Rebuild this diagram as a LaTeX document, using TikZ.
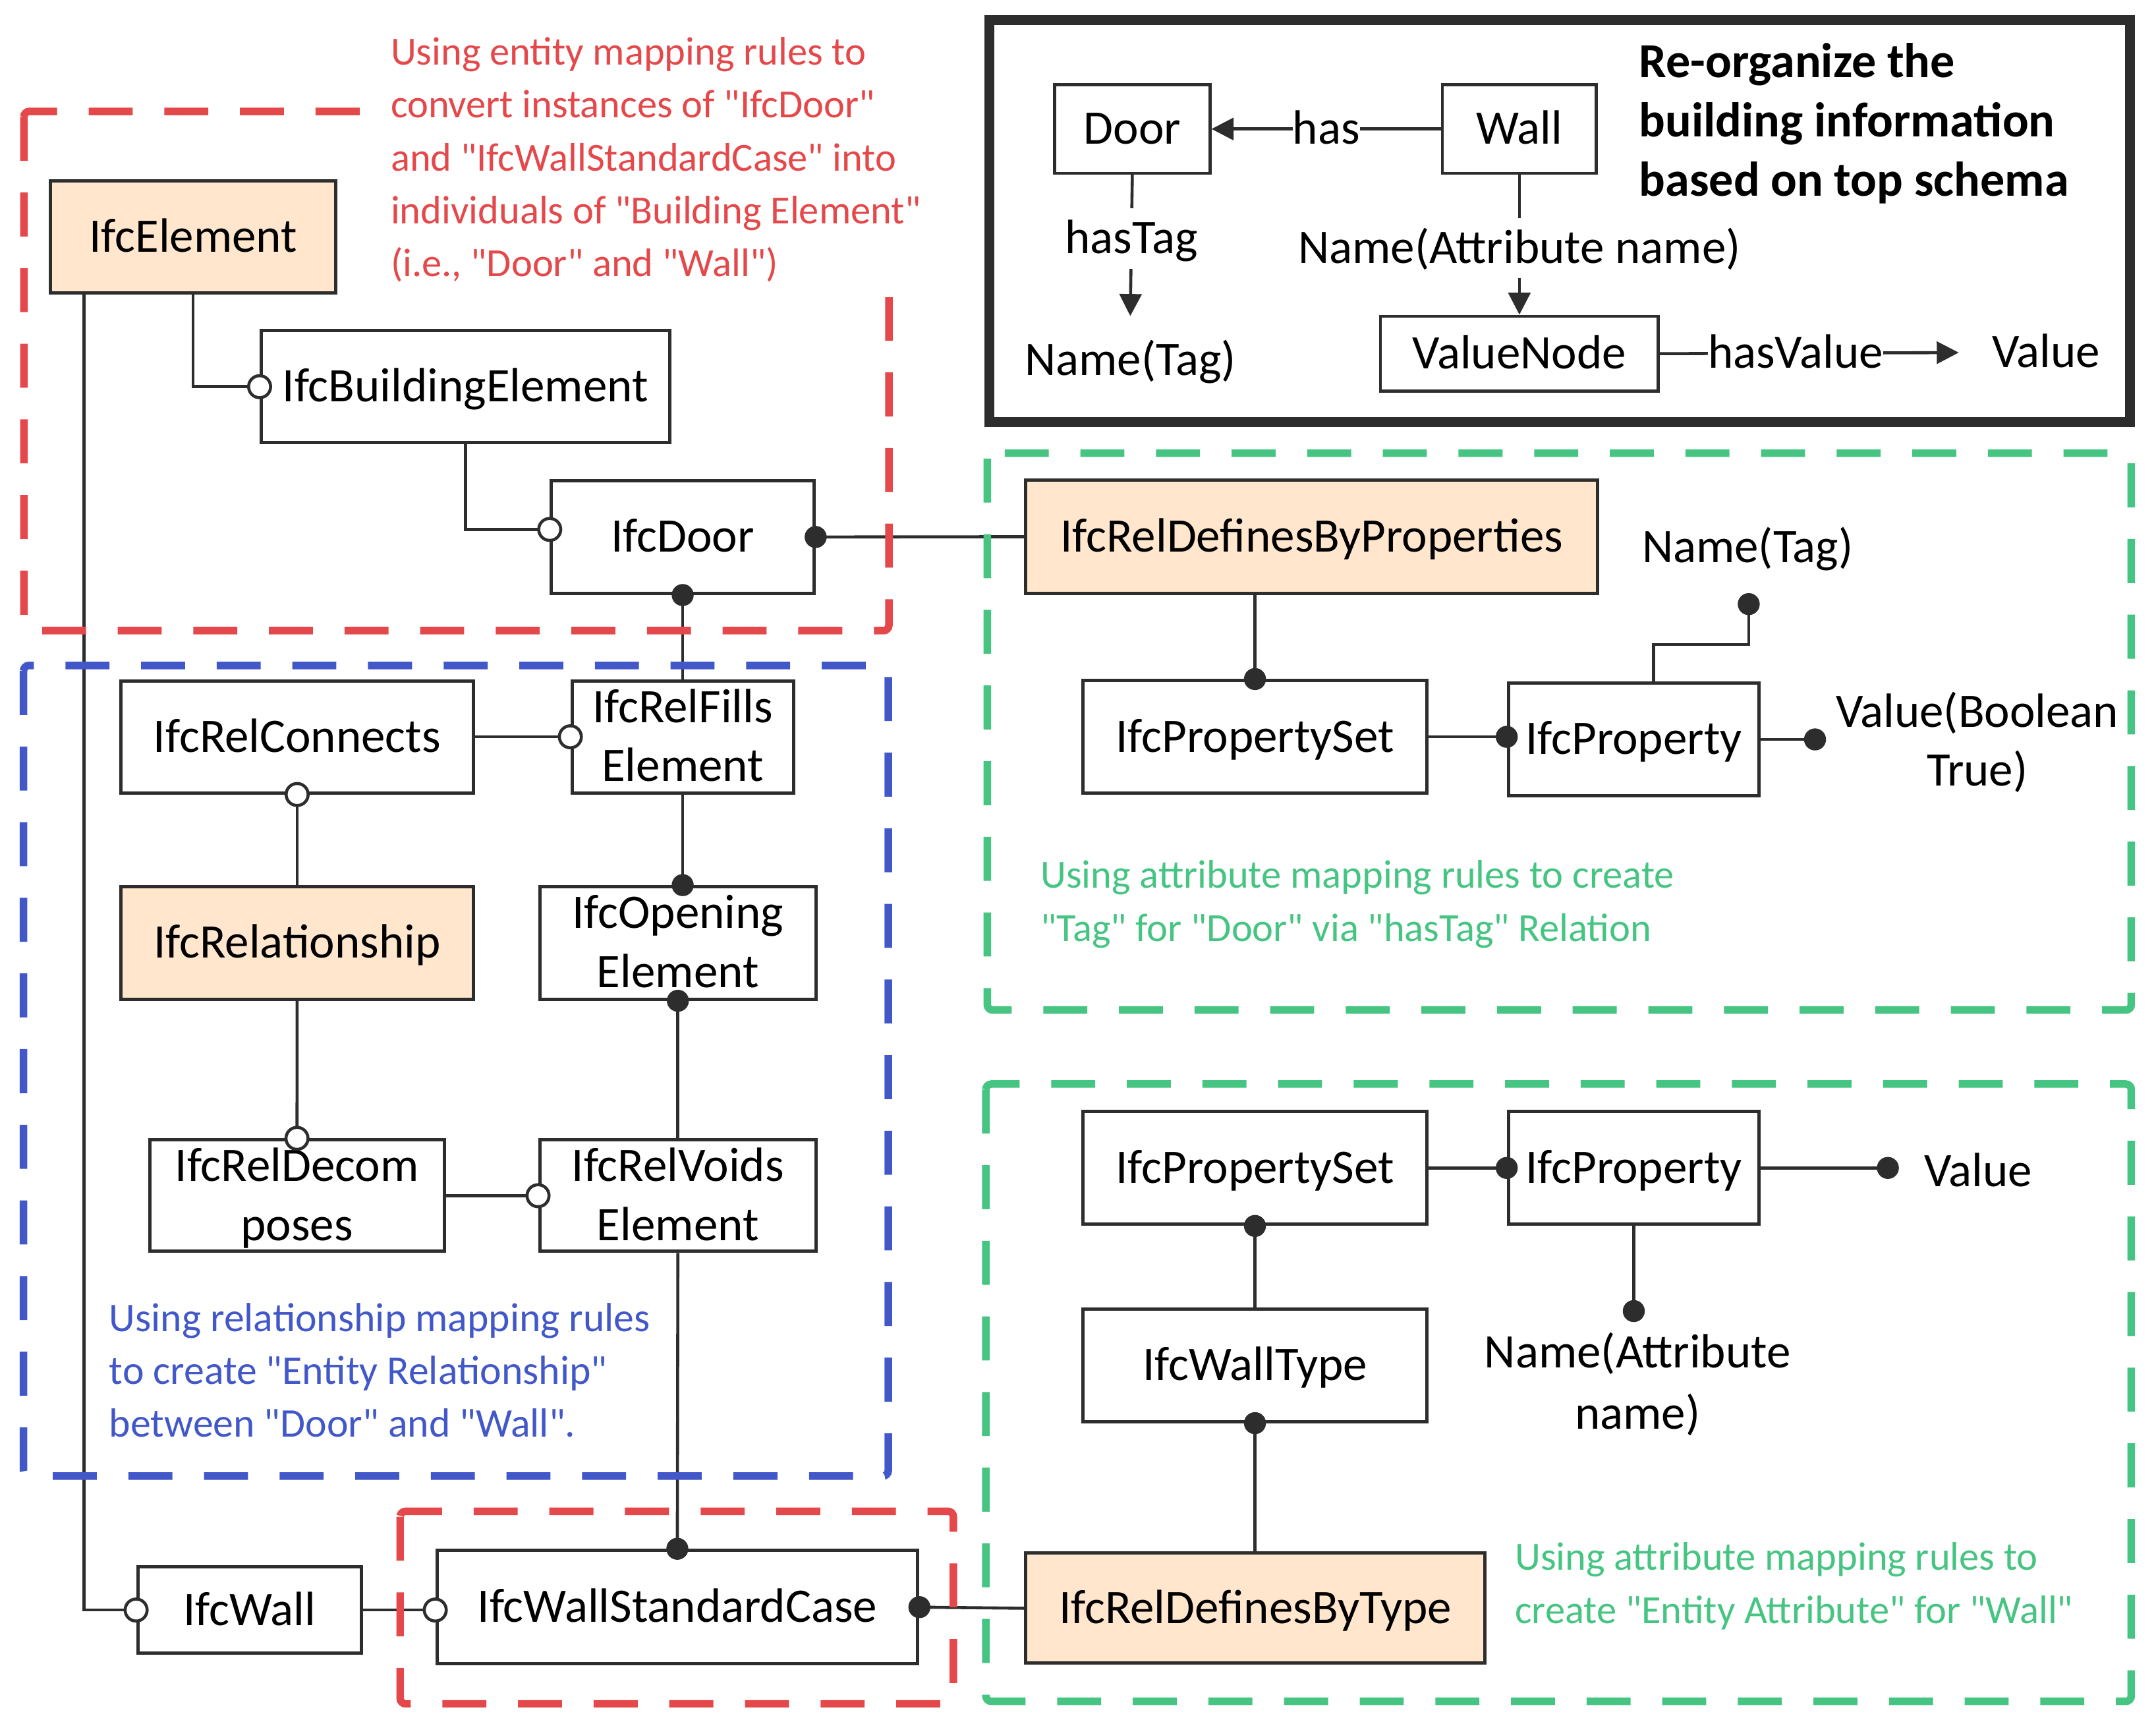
\documentclass[tikz,border=0pt]{standalone}
\usepackage{fontspec}
\setmainfont{Carlito}[Ligatures=TeXOff]
\usetikzlibrary{arrows.meta,calc}
\pgfdeclarelayer{bg}
\pgfsetlayers{bg,main}
\definecolor{myred}{HTML}{E5484A}
\definecolor{myblue}{HTML}{4258C8}
\definecolor{mygreen}{HTML}{46C482}
\definecolor{myorange}{HTML}{FFE6CC}
\definecolor{myline}{HTML}{2D2D2D}
\newcommand{\twol}[2]{\rule{0pt}{30pt}#1\\#2\rule[-8pt]{0pt}{8pt}}
\begin{document}
\begin{tikzpicture}[x=1pt,y=-1pt,
  box/.style={draw=myline, line width=2.4pt, fill=white, inner sep=0pt,
    font=\fontsize{35}{43}\selectfont, text height=27pt, text depth=5pt},
  obox/.style={box, fill=myorange},
  tbox/.style={box, line width=2.2pt},
  box2/.style={draw=myline, line width=2.4pt, fill=white, inner sep=0pt,
    font=\fontsize{35}{43}\selectfont, align=center},
  lbl/.style={inner sep=0pt, font=\fontsize{35}{43}\selectfont, text height=27pt, text depth=5pt},
  lbltwo/.style={inner sep=0pt, align=center, anchor=north},
  conn/.style={draw=myline, line width=2.2pt},
  arr/.style={conn, -{Triangle[length=16pt,width=16pt]}},
  odot/.style={circle, draw=myline, line width=2.2pt, fill=white, minimum size=16pt, inner sep=0pt},
  fdot/.style={circle, fill=myline, minimum size=16pt, inner sep=0pt},
  note/.style={inner sep=0pt, font=\fontsize{29}{38.5}\selectfont, align=left, anchor=north west},
  dbox/.style={line width=5.5pt, dash pattern=on 32pt off 23pt, rounded corners=4pt}
]
\useasboundingbox (0,0) rectangle (1568,1249);

% ---------- main boxes ----------
\node[obox, minimum width=207.7pt, minimum height=81.5pt] (elem) at (140.5,172.2) {IfcElement};
\node[box, minimum width=297pt, minimum height=81.5pt] (bldg) at (338.5,281.2) {IfcBuildingElement};
\node[box, minimum width=191pt, minimum height=82pt] (door) at (496.5,390.5) {IfcDoor};
\node[obox, minimum width=416pt, minimum height=82pt] (rdp) at (954,390.3) {IfcRelDefinesByProperties};
\node[box, minimum width=250.3pt, minimum height=81.6pt] (pset1) at (912.7,535.8) {IfcPropertySet};
\node[box, minimum width=182.4pt, minimum height=81.8pt] (prop1) at (1188.2,537.7) {IfcProperty};
\node[box, minimum width=256.8pt, minimum height=81.5pt] (relconn) at (216.1,535.8) {IfcRelConnects};
\node[box2, minimum width=161pt, minimum height=81.5pt] (relfills) at (496.5,535.8) {\twol{IfcRelFills}{Element}};
\node[obox, minimum width=256.8pt, minimum height=81.7pt] (relship) at (216.1,685.7) {IfcRelationship};
\node[box2, minimum width=201pt, minimum height=81.7pt] (opening) at (493,685.7) {\twol{IfcOpening}{Element}};
\node[box2, minimum width=214pt, minimum height=81pt] (reldecom) at (216,869.5) {\twol{IfcRelDecom}{poses}};
\node[box2, minimum width=201pt, minimum height=81pt] (relvoids) at (493,869.5) {\twol{IfcRelVoids}{Element}};
\node[box, minimum width=250.3pt, minimum height=82pt] (pset2) at (912.7,849.3) {IfcPropertySet};
\node[box, minimum width=182.4pt, minimum height=82pt] (prop2) at (1188.2,849.3) {IfcProperty};
\node[box, minimum width=250.3pt, minimum height=81.8pt] (walltype) at (912.7,992.8) {IfcWallType};
\node[obox, minimum width=334pt, minimum height=80pt] (rdt) at (913,1169.5) {IfcRelDefinesByType};
\node[box, minimum width=162.8pt, minimum height=63pt] (wall) at (181.6,1170.8) {IfcWall};
\node[box, minimum width=349.7pt, minimum height=82.5pt] (wsc) at (492.6,1168.7) {IfcWallStandardCase};

% ---------- free labels ----------
\node[lbl] (nameTag1) at (1271,398) {Name(Tag)};
\node[lbltwo, font=\fontsize{35}{42.7}\selectfont] (valbool) at (1438,498.7) {\rule{0pt}{30pt}Value(Boolean\\True)};
\node[lbl] (value2) at (1438.6,851.7) {Value};
\node[lbltwo, font=\fontsize{35}{44.6}\selectfont] (attr2) at (1191,964.3) {\rule{0pt}{30pt}Name(Attribute\\name)};

\coordinate (tagdot) at (1271.8,439.3);
\coordinate (booldot) at (1320,537.7);
\coordinate (valdot) at (1373,849.3);
\coordinate (attrdot) at (1189,953.4);

% ---------- top schema box ----------
\draw[line width=7pt, draw=myline] (719.4,14.6) rectangle (1549,307);
\node[tbox, minimum width=113pt, minimum height=64.4pt] (doorT) at (823.5,93.8) {Door};
\node[tbox, minimum width=112pt, minimum height=64.4pt] (wallT) at (1105,93.8) {Wall};
\node[tbox, minimum width=202pt, minimum height=54.5pt] (valnode) at (1105,257.2) {ValueNode};
\node[lbl] (nameTagT) at (822,262) {Name(Tag)};
\node[lbl] (valueT) at (1488,256.4) {Value};
\node[note, font=\fontsize{35.5}{43.3}\selectfont\bfseries] (title) at (1192,26)
  {\rule{0pt}{30pt}Re-organize the\\building information\\based on top schema};

\draw[arr] (wallT.west) -- node[lbl, fill=white] (hasL) {has} (doorT.east);
\draw[arr] (doorT.south) -- node[lbl, fill=white, pos=0.45, inner ysep=6pt] (hasTagL) {hasTag} ([yshift=16pt]nameTagT.north);
\draw[arr] (wallT.south) -- node[lbl, fill=white, pos=0.524, inner ysep=6pt] (attrL) {Name(Attribute name)} (valnode.north);
\draw[arr] (valnode.east) -- node[lbl, fill=white, pos=0.454] (hasValL) {hasValue} ([xshift=-24pt]valueT.west);

% ---------- connectors and group frames ----------
\begin{pgfonlayer}{bg}
\draw[conn] (elem.south) |- (bldg.west);
\draw[conn] (bldg.south) |- ([yshift=5.5pt]door.west);
\draw[conn] (door.east) -- (rdp.west);
\draw[conn] (door.south) -- (relfills.north);
\draw[conn] (relconn.east) -- (relfills.west);
\draw[conn] (relconn.south) -- (relship.north);
\draw[conn] (relship.south) -- (reldecom.north);
\draw[conn] (relfills.south) -- (relfills.south |- opening.north);
\draw[conn] (opening.south) -- (relvoids.north);
\draw[conn] (reldecom.east) -- (relvoids.west);
\draw[conn] (relvoids.south) -- (wsc.north);
\draw[conn] ([xshift=-79.5pt]elem.south) |- (wall.west);
\draw[conn] (wall.east) -- (wall.east -| wsc.west);
\draw[conn] (wsc.east) -- (rdt.west);
\draw[conn] (pset1.north |- rdp.south) -- (pset1.north);
\draw[conn] (pset1.east) -- (pset1.east -| prop1.west);
\draw[conn] ([xshift=14.5pt]prop1.north) -- ++(0,-27) -| (tagdot);
\draw[conn] (prop1.east) -- (booldot);
\draw[conn] (pset2.east) -- (prop2.west);
\draw[conn] (prop2.east) -- (valdot);
\draw[conn] (prop2.south) -- (prop2.south |- attrdot);
\draw[conn] (pset2.south) -- (walltype.north);
\draw[conn] (walltype.south) -- (walltype.south |- rdt.north);

\draw[dbox, myred] (17.4,81) rectangle (646.5,458.6);
\draw[dbox, myblue] (17.1,483.9) rectangle (646,1073.4);
\draw[dbox, myred] (291,1099) rectangle (693.4,1239);
\draw[dbox, mygreen] (718,329.5) rectangle (1550,734.5);
\draw[dbox, mygreen] (717,788.3) rectangle (1550,1237.2);
\fill[white] (278,0) rectangle (712,216);
\end{pgfonlayer}

% ---------- annotations ----------
\node[note, text=myred] (rednote) at (284,22) {\rule{0pt}{25pt}Using entity mapping rules to\\convert instances of "IfcDoor"\\and "IfcWallStandardCase" into\\individuals of "Building Element"\\(i.e., "Door" and "Wall")};
\node[note, text=myblue, font=\fontsize{29.6}{38.3}\selectfont] (bluenote) at (79.3,943) {\rule{0pt}{25pt}Using relationship mapping rules\\to create "Entity Relationship"\\between "Door" and "Wall".};
\node[note, text=mygreen] (greennote1) at (756.6,620.7) {\rule{0pt}{25pt}Using attribute mapping rules to create\\"Tag" for "Door" via "hasTag" Relation};
\node[note, text=mygreen] (greennote2) at (1101.6,1116.6) {\rule{0pt}{25pt}Using attribute mapping rules to\\create "Entity Attribute" for "Wall"};

% ---------- connector ends ----------
\node[odot] (c1) at (bldg.west) {};
\node[odot] (c2) at ([yshift=5.5pt]door.west) {};
\node[fdot] (c3) at (door.east) {};
\node[fdot] (c4) at (door.south) {};
\node[odot] (c5) at (relfills.west) {};
\node[odot] (c6) at (relconn.south) {};
\node[odot] (c7) at (reldecom.north) {};
\node[fdot] (c8) at (relfills.south |- opening.north) {};
\node[fdot] (c9) at (opening.south) {};
\node[odot] (c10) at (relvoids.west) {};
\node[fdot] (c11) at (wsc.north) {};
\node[odot] (c12) at (wall.west) {};
\node[odot] (c13) at (wall.east -| wsc.west) {};
\node[fdot] (c14) at (wsc.east) {};
\node[fdot] (c15) at (pset1.north) {};
\node[fdot] (c16) at (pset1.east -| prop1.west) {};
\node[fdot] (c17) at (tagdot) {};
\node[fdot] (c18) at (booldot) {};
\node[fdot] (c19) at (prop2.west) {};
\node[fdot] (c20) at (valdot) {};
\node[fdot] (c21) at (prop2.south |- attrdot) {};
\node[fdot] (c22) at (pset2.south) {};
\node[fdot] (c23) at (walltype.south) {};
\end{tikzpicture}
\end{document}
